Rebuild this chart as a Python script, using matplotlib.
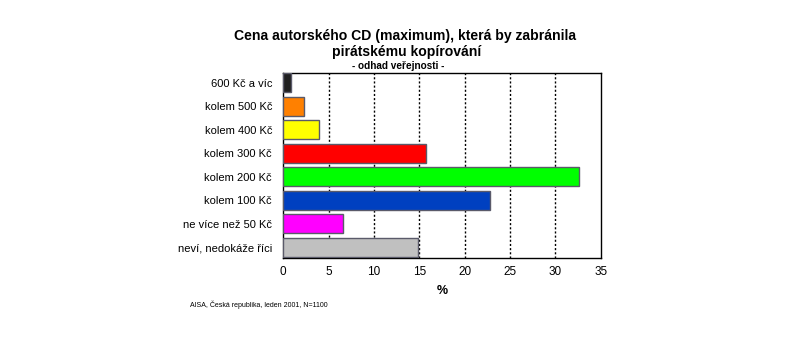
import matplotlib.pyplot as plt
import numpy as np

plt.rcParams['font.family'] = ['Liberation Sans', 'DejaVu Sans']

categories = ["600 Kč a víc", "kolem 500 Kč", "kolem 400 Kč", "kolem 300 Kč",
              "kolem 200 Kč", "kolem 100 Kč", "ne více než 50 Kč", "neví, nedokáže říci"]
values = [0.9, 2.3, 4.0, 15.7, 32.6, 22.8, 6.6, 14.9]
colors = ["#202020", "#FF8000", "#FFFF00", "#FF0000",
          "#00FF00", "#0040C0", "#FF00FF", "#C0C0C0"]
xticks = [0, 5, 10, 15, 20, 25, 30, 35]

fig = plt.figure(figsize=(8, 3.42), dpi=100)
ax = fig.add_axes([0.354, 0.246, 0.397, 0.541])

ypos = np.arange(len(categories))[::-1]
ax.barh(ypos, values, height=0.82, color=colors, edgecolor="#5a5a6a", linewidth=1.0, zorder=3)

for x in xticks[1:-1]:
    ax.axvline(x, color="black", lw=1, ls=(0, (1.5, 1.5)), zorder=1)

ax.set_xlim(0, 35)
ax.set_ylim(-0.45, 7.42)
ax.set_xticks(xticks)
ax.set_xticklabels([str(t) for t in xticks], fontsize=8.5)
ax.set_yticks(ypos)
ax.set_yticklabels(categories, fontsize=8)
ax.tick_params(axis="y", length=0, pad=8)
ax.tick_params(axis="x", length=0, pad=6)
for s in ax.spines.values():
    s.set_linewidth(1)
    s.set_color("black")

ax.set_xlabel("%", fontsize=9, fontweight="bold", labelpad=5)

fig.text(0.506, 1 - 36 / 342, "Cena autorského CD (maximum), která by zabránila",
         ha="center", va="center", fontsize=10.1, fontweight="bold")
fig.text(0.508, 1 - 52 / 342, "pirátskému kopírování",
         ha="center", va="center", fontsize=10.1, fontweight="bold")
fig.text(0.498, 1 - 66 / 342, "- odhad veřejnosti -", ha="center", va="center",
         fontsize=7.2, fontweight="bold")
fig.text(0.2375, 1 - 305 / 342, "AISA, Česká republika, leden 2001, N=1100", ha="left", va="center",
         fontsize=5)

fig.savefig("out.png", dpi=100)
